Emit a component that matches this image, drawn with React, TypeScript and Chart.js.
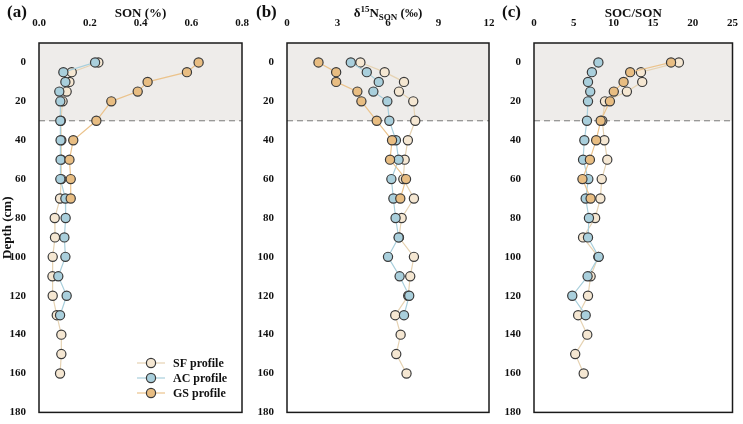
import React, { useEffect, useRef } from "react";
import { Chart, registerables } from "chart.js";

Chart.register(...registerables);

// ---- data ----
const depthSF = [0, 5, 10, 15, 20, 30, 40, 50, 60, 70, 80, 90, 100, 110, 120, 130, 140, 150, 160];
const depthAC = [0, 5, 10, 15, 20, 30, 40, 50, 60, 70, 80, 90, 100, 110, 120, 130];
const depthGS = [0, 5, 10, 15, 20, 30, 40, 50, 60, 70];

const sonSF = [0.234, 0.129, 0.12, 0.109, 0.093, 0.086, 0.088, 0.088, 0.088, 0.083, 0.062, 0.063, 0.054, 0.053, 0.054, 0.07, 0.088, 0.088, 0.083];
const sonAC = [0.221, 0.096, 0.104, 0.08, 0.084, 0.084, 0.085, 0.085, 0.084, 0.104, 0.105, 0.1, 0.104, 0.076, 0.109, 0.083];
const sonGS = [0.629, 0.583, 0.428, 0.389, 0.285, 0.226, 0.135, 0.12, 0.125, 0.125];

const d15SF = [4.36, 5.8, 6.95, 6.65, 7.5, 7.62, 7.18, 6.99, 6.91, 7.54, 6.81, 6.65, 7.54, 7.32, 7.2, 6.43, 6.75, 6.49, 7.1];
const d15AC = [3.79, 4.74, 5.45, 5.13, 5.96, 6.08, 6.47, 6.63, 6.2, 6.32, 6.45, 6.63, 6.0, 6.69, 7.26, 6.95];
const d15GS = [1.87, 2.92, 2.92, 4.18, 4.42, 5.33, 6.24, 6.12, 7.07, 6.73];

const cnSF = [18.25, 13.47, 13.63, 11.7, 8.94, 8.6, 8.86, 9.23, 8.53, 8.36, 7.7, 6.18, 8.1, 7.13, 6.8, 5.56, 6.71, 5.19, 6.26];
const cnAC = [8.11, 7.29, 6.8, 7.08, 6.8, 6.67, 6.34, 6.18, 6.84, 6.51, 6.92, 6.8, 8.15, 6.75, 4.82, 6.51];
const cnGS = [17.26, 12.11, 11.28, 10.05, 9.56, 8.4, 7.83, 7.04, 6.1, 7.13];

const seriesNames = ["SF profile", "AC profile", "GS profile"];
const depthTicks = [0, 20, 40, 60, 80, 100, 120, 140, 160, 180];
const panelLabels = ["(a)", "(b)", "(c)"];

// ---- style ----
const FONT = "'Liberation Serif', 'Times New Roman', serif";
const fills = ["#f5e7d2", "#a9cfdc", "#e8bd82"];
const lines = ["#e6d3b3", "#a9cfdc", "#ebc38c"];
const POINT_BORDER = "#3a3a3a";

type Panel = {
  label: string;
  title: string;
  xMax: number;
  step: number;
  decimals: number;
  series: number[][];
  padLeft: number;
  padRight: number;
  yWidth: number;
  showYTitle: boolean;
  legend: boolean;
  richTitle: boolean;
};

const panels: Panel[] = [
  { label: panelLabels[0], title: "SON (%)", xMax: 0.8, step: 0.2, decimals: 1, series: [sonSF, sonAC, sonGS], padLeft: 0, padRight: 501, yWidth: 39, showYTitle: true, legend: true, richTitle: false },
  { label: panelLabels[1], title: "", xMax: 12, step: 3, decimals: 0, series: [d15SF, d15AC, d15GS], padLeft: 252, padRight: 254, yWidth: 35, showYTitle: false, legend: false, richTitle: true },
  { label: panelLabels[2], title: "SOC/SON", xMax: 25, step: 5, decimals: 0, series: [cnSF, cnAC, cnGS], padLeft: 499, padRight: 6, yWidth: 35, showYTitle: false, legend: false, richTitle: false },
];

const depths = [depthSF, depthAC, depthGS];

function makeChart(canvas: HTMLCanvasElement, p: Panel, labelX: number) {
  const datasets = p.series.map((vals, i) => ({
    label: seriesNames[i],
    data: vals.map((v, j) => ({ x: v, y: depths[i][j] })),
    showLine: true,
    borderColor: lines[i],
    borderWidth: 1.2,
    backgroundColor: fills[i],
    pointBackgroundColor: fills[i],
    pointBorderColor: POINT_BORDER,
    pointBorderWidth: 1.2,
    pointRadius: 4.6,
    order: 3 - i,
  }));

  const deco = {
    id: "deco" + p.label,
    beforeDatasetsDraw(chart: any) {
      const { ctx, chartArea } = chart;
      const ys = chart.scales.y;
      const y30 = ys.getPixelForValue(30);
      ctx.save();
      ctx.fillStyle = "#eeecea";
      ctx.fillRect(chartArea.left, chartArea.top, chartArea.right - chartArea.left, y30 - chartArea.top);
      ctx.strokeStyle = "#7a7a7a";
      ctx.lineWidth = 1;
      ctx.setLineDash([6, 4]);
      ctx.beginPath();
      ctx.moveTo(chartArea.left, y30);
      ctx.lineTo(chartArea.right, y30);
      ctx.stroke();
      ctx.restore();
    },
    afterDraw(chart: any) {
      const { ctx, chartArea } = chart;
      ctx.save();
      ctx.strokeStyle = "#1a1a1a";
      ctx.lineWidth = 1.5;
      ctx.setLineDash([]);
      ctx.strokeRect(chartArea.left, chartArea.top, chartArea.right - chartArea.left, chartArea.bottom - chartArea.top);

      ctx.fillStyle = "#111";
      ctx.textBaseline = "alphabetic";
      ctx.textAlign = "left";
      ctx.font = `bold 17px ${FONT}`;
      ctx.fillText(p.label, labelX, 17);

      const cx = (chartArea.left + chartArea.right) / 2;
      const baseY = 16.5;
      if (!p.richTitle) {
        ctx.font = `bold 13px ${FONT}`;
        ctx.textAlign = "center";
        ctx.fillText(p.title, cx, baseY);
      } else {
        const parts = [
          { t: "δ", f: `bold 13px ${FONT}`, dy: 0 },
          { t: "15", f: `bold 9px ${FONT}`, dy: -5 },
          { t: "N", f: `bold 13px ${FONT}`, dy: 0 },
          { t: "SON", f: `bold 9px ${FONT}`, dy: 3 },
          { t: " (‰)", f: `bold 13px ${FONT}`, dy: 0 },
        ];
        let total = 0;
        const widths = parts.map((pt) => {
          ctx.font = pt.f;
          const w = ctx.measureText(pt.t).width;
          total += w;
          return w;
        });
        let x = cx - total / 2;
        ctx.textAlign = "left";
        parts.forEach((pt, i) => {
          ctx.font = pt.f;
          ctx.fillText(pt.t, x, baseY + pt.dy);
          x += widths[i];
        });
      }

      if (p.legend) {
        ctx.font = `bold 12px ${FONT}`;
        ctx.textAlign = "left";
        ctx.textBaseline = "middle";
        for (let i = 0; i < 3; i++) {
          const ly = 363 + i * 15;
          ctx.strokeStyle = lines[i];
          ctx.lineWidth = 1.2;
          ctx.beginPath();
          ctx.moveTo(137, ly);
          ctx.lineTo(165, ly);
          ctx.stroke();
          ctx.beginPath();
          ctx.arc(151, ly, 4.6, 0, Math.PI * 2);
          ctx.fillStyle = fills[i];
          ctx.fill();
          ctx.strokeStyle = POINT_BORDER;
          ctx.stroke();
          ctx.fillStyle = "#111";
          ctx.fillText(seriesNames[i], 173, ly + 0.5);
        }
      }
      ctx.restore();
    },
  };

  return new Chart(canvas, {
    type: "scatter",
    data: { datasets },
    plugins: [deco],
    options: {
      responsive: false,
      animation: false,
      events: [],
      layout: { padding: { left: p.padLeft, right: p.padRight, top: 0, bottom: 6 } },
      plugins: { legend: { display: false }, tooltip: { enabled: false } },
      scales: {
        x: {
          type: "linear",
          position: "top",
          min: 0,
          max: p.xMax,
          grid: { display: false },
          border: { display: false },
          ticks: {
            stepSize: p.step,
            padding: 5,
            color: "#111",
            font: { family: FONT, size: 11, weight: "bold" },
            callback: (v: any) => Number(v).toFixed(p.decimals),
          },
          afterFit: (scale: any) => {
            scale.height = 43;
          },
        },
        y: {
          type: "linear",
          reverse: true,
          min: -10,
          max: 180,
          grid: { display: false },
          border: { display: false },
          afterBuildTicks: (scale: any) => {
            scale.ticks = depthTicks.map((v) => ({ value: v }));
          },
          ticks: {
            padding: 5,
            color: "#111",
            font: { family: FONT, size: 11, weight: "bold" },
            callback: (v: any) => String(v),
          },
          title: {
            display: p.showYTitle,
            text: "Depth (cm)",
            color: "#111",
            font: { family: FONT, size: 13, weight: "bold" },
            padding: 0,
          },
          afterFit: (scale: any) => {
            scale.width = p.yWidth;
          },
        },
      },
    } as any,
  });
}

export default function App() {
  const r0 = useRef<HTMLCanvasElement>(null);
  const r1 = useRef<HTMLCanvasElement>(null);
  const r2 = useRef<HTMLCanvasElement>(null);

  useEffect(() => {
    const labelXs = [7, 256, 502];
    const refs = [r0, r1, r2];
    const charts = refs.map((r, i) => makeChart(r.current as HTMLCanvasElement, panels[i], labelXs[i]));
    return () => charts.forEach((c) => c.destroy());
  }, []);

  const style: React.CSSProperties = { position: "absolute", left: 0, top: 0, width: 743, height: 424 };
  return (
    <div style={{ position: "absolute", left: 0, top: 0, width: 743, height: 424, background: "#fff" }}>
      <canvas ref={r0} width={743} height={424} style={style} />
      <canvas ref={r1} width={743} height={424} style={style} />
      <canvas ref={r2} width={743} height={424} style={style} />
    </div>
  );
}
